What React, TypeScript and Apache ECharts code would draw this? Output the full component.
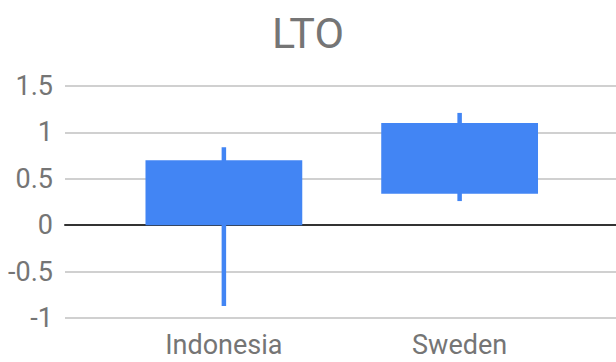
import React, { useEffect, useRef } from "react";
import * as echarts from "echarts";

// Candle values per country
const categories = ["Indonesia", "Sweden"];
const openValues = [0, 0.34];
const closeValues = [0.7, 1.1];
const lowValues = [-0.87, 0.26];
const highValues = [0.84, 1.21];

const yTickMin = -1;
const yTickMax = 1.5;
const yTickStep = 0.5;

const BLUE = "#4285F4";
const TEXT_GRAY = "#757575";
const FONT = "Roboto";

export default function App() {
  const ref = useRef<HTMLDivElement>(null);

  useEffect(() => {
    if (!ref.current) return;
    const chart = echarts.init(ref.current, null, { renderer: "svg" });

    const seriesData = categories.map((_, i) => [
      i,
      openValues[i],
      closeValues[i],
      lowValues[i],
      highValues[i],
    ]);

    chart.setOption({
      animation: false,
      backgroundColor: "#ffffff",
      title: {
        text: "LTO",
        left: "center",
        top: 6,
        textStyle: {
          fontFamily: FONT,
          fontSize: 43,
          fontWeight: "normal",
          color: TEXT_GRAY,
        },
      },
      grid: [
        // gridlines, y labels and the zero baseline
        { left: 65, right: 0, top: 86, bottom: 44 },
        // candles and country labels
        { left: 106, right: 38.5, top: 86, bottom: 44 },
      ],
      xAxis: [
        {
          type: "value",
          gridIndex: 0,
          min: 0,
          max: 1,
          axisLabel: { show: false },
          axisTick: { show: false },
          splitLine: { show: false },
          axisLine: {
            show: true,
            onZero: true,
            lineStyle: { color: "#333333", width: 2 },
          },
        },
        {
          type: "category",
          gridIndex: 1,
          data: categories,
          boundaryGap: true,
          axisLine: { show: false },
          axisTick: { show: false },
          splitLine: { show: false },
          axisLabel: {
            margin: 13,
            fontFamily: FONT,
            fontSize: 27,
            color: TEXT_GRAY,
          },
        },
      ],
      yAxis: [
        {
          type: "value",
          gridIndex: 0,
          min: yTickMin,
          max: yTickMax,
          interval: yTickStep,
          axisLine: { show: false },
          axisTick: { show: false },
          axisLabel: {
            margin: 12,
            fontFamily: FONT,
            fontSize: 27,
            color: TEXT_GRAY,
          },
          splitLine: { lineStyle: { color: "#d0d0d0", width: 2 } },
        },
        {
          type: "value",
          gridIndex: 1,
          min: yTickMin,
          max: yTickMax,
          interval: yTickStep,
          show: false,
          splitLine: { show: false },
        },
      ],
      series: [
        {
          type: "custom",
          xAxisIndex: 1,
          yAxisIndex: 1,
          encode: { x: 0, y: [1, 2, 3, 4] },
          data: seriesData,
          z: 5,
          renderItem: (params: any, api: any) => {
            const x = api.value(0);
            const pOpen = api.coord([x, api.value(1)]);
            const pClose = api.coord([x, api.value(2)]);
            const pLow = api.coord([x, api.value(3)]);
            const pHigh = api.coord([x, api.value(4)]);
            const band = api.size([1, 0])[0];
            const w = band * 0.665;
            const top = Math.min(pOpen[1], pClose[1]);
            const bottom = Math.max(pOpen[1], pClose[1]);
            return {
              type: "group",
              children: [
                {
                  type: "line",
                  shape: { x1: pHigh[0], y1: pHigh[1], x2: pLow[0], y2: pLow[1] },
                  style: { stroke: BLUE, lineWidth: 4.5 },
                },
                {
                  type: "rect",
                  shape: { x: pOpen[0] - w / 2, y: top, width: w, height: bottom - top },
                  style: { fill: BLUE },
                },
              ],
            };
          },
        },
      ],
    });

    return () => chart.dispose();
  }, []);

  return (
    <div
      ref={ref}
      style={{ position: "absolute", left: 0, top: 0, width: 616, height: 362 }}
    />
  );
}
